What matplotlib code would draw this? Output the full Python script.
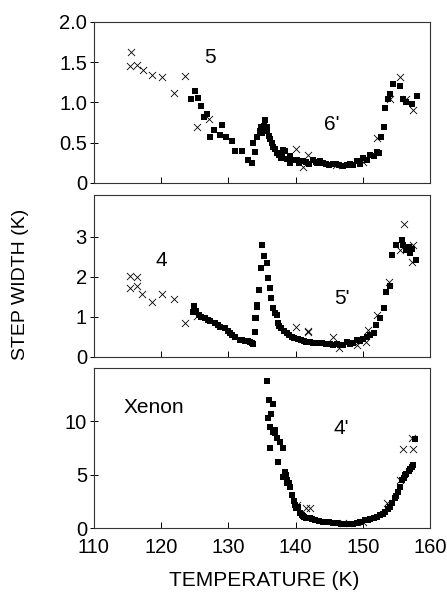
import numpy as np
import matplotlib
matplotlib.use('Agg')
import matplotlib.pyplot as plt

plt.rcParams['font.family'] = ['Liberation Sans', 'DejaVu Sans']

# top panel (layers 5 / 6')
top_sq_T = [125.0, 124.5, 125.5, 125.9, 126.8, 126.4, 127.3, 127.8, 129.1, 128.7, 129.6, 130.5,
            131.0, 132.1, 133.0, 133.5, 133.9, 133.7, 134.2, 134.7, 135.3, 135.4, 135.7, 136.2,
            136.7, 137.3, 137.9, 138.4, 139.2, 140.2, 141.1, 142.6, 144.1, 145.6, 147.1, 148.1,
            149.1, 150.1, 151.1, 152.1, 152.7, 153.1, 153.3, 153.8, 154.0, 154.5, 155.5, 156.0,
            156.5, 157.3, 158.0, 138.2, 139.2, 140.7, 143.2, 146.5, 148.6,
            134.9, 135.0, 135.8, 136.0, 136.5, 137.0, 137.6, 138.0, 138.8, 139.6, 140.5, 141.5,
            142.0, 143.0, 143.7, 144.6, 145.0, 146.0, 147.6, 149.6, 150.6, 151.6, 152.4]
top_sq_w = [1.14, 1.04, 1.05, 0.95, 0.85, 0.82, 0.57, 0.66, 0.72, 0.60, 0.57, 0.52,
            0.40, 0.40, 0.29, 0.25, 0.38, 0.50, 0.57, 0.64, 0.71, 0.78, 0.64, 0.54,
            0.45, 0.37, 0.31, 0.40, 0.25, 0.29, 0.27, 0.29, 0.25, 0.23, 0.21, 0.23,
            0.27, 0.31, 0.35, 0.39, 0.57, 0.70, 0.93, 1.04, 1.10, 1.23, 1.20, 1.04,
            1.00, 0.98, 1.08, 0.41, 0.33, 0.27, 0.25, 0.22, 0.22,
            0.70, 0.62, 0.70, 0.58, 0.50, 0.42, 0.35, 0.33, 0.30, 0.28, 0.25, 0.26,
            0.24, 0.26, 0.27, 0.24, 0.22, 0.24, 0.22, 0.24, 0.28, 0.33, 0.37]
top_x_T = [115.5, 115.3, 116.4, 117.3, 118.7, 120.2, 121.9, 123.6, 125.3, 127.1,
           140.0, 141.1, 141.9, 146.0, 150.0, 152.1, 154.0, 155.5, 156.5, 157.4]
top_x_w = [1.62, 1.45, 1.47, 1.40, 1.34, 1.32, 1.12, 1.33, 0.70, 0.80,
           0.42, 0.20, 0.35, 0.22, 0.26, 0.56, 1.04, 1.31, 1.04, 0.91]

# middle panel (layers 4 / 5')
mid_sq_T = [124.8, 124.9, 125.7, 126.5, 127.3, 128.0, 128.8, 129.5, 130.2, 131.0, 131.7, 132.5,
            133.2, 133.7, 133.9, 134.1, 134.3, 134.5, 134.8, 135.0, 135.3, 135.7, 135.9, 136.2,
            136.3, 136.7, 137.2, 137.4, 137.9, 138.7, 139.4, 140.4, 141.6, 143.1, 144.6, 146.1,
            147.6, 149.1, 150.6, 151.6, 152.0, 152.6, 153.1, 153.5, 154.0, 154.4, 155.0, 155.8,
            156.5, 157.3, 157.9, 134.2, 134.0,
            136.9, 137.6, 138.3, 139.0, 139.8, 140.8, 141.2, 142.2, 142.6, 143.6, 144.0, 145.1,
            145.6, 146.6, 147.1, 148.1, 148.6, 149.6, 150.1, 151.1, 125.2, 126.0, 127.0, 128.4,
            129.9, 130.6, 132.0, 132.9, 133.5, 156.0, 157.0, 156.8]
mid_sq_w = [1.13, 1.28, 1.05, 0.97, 0.90, 0.84, 0.76, 0.72, 0.59, 0.51, 0.43, 0.40,
            0.38, 0.33, 0.63, 0.97, 1.26, 1.68, 2.22, 2.80, 2.51, 2.34, 1.97, 1.72,
            1.47, 1.22, 1.05, 0.84, 0.72, 0.59, 0.51, 0.44, 0.38, 0.34, 0.33, 0.32,
            0.38, 0.43, 0.51, 0.59, 0.80, 0.97, 1.22, 1.61, 1.78, 2.55, 2.80, 2.93,
            2.68, 2.69, 2.43, 1.30, 0.97,
            1.10, 0.78, 0.65, 0.55, 0.48, 0.42, 0.40, 0.37, 0.36, 0.35, 0.34, 0.33,
            0.31, 0.31, 0.30, 0.32, 0.34, 0.40, 0.45, 0.55, 1.15, 1.00, 0.92, 0.80,
            0.65, 0.55, 0.42, 0.39, 0.36, 2.80, 2.60, 2.75]
mid_x_T = [115.3, 116.4, 115.4, 116.4, 117.2, 118.7, 120.2, 121.9, 123.6, 125.3,
           140.1, 141.8, 141.8, 145.5, 146.4, 149.1, 150.5, 150.8, 152.1, 153.9,
           156.1, 157.4, 157.3, 155.5]
mid_x_w = [2.01, 1.99, 1.73, 1.78, 1.57, 1.37, 1.58, 1.46, 0.86, 1.03,
           0.74, 0.65, 0.62, 0.49, 0.22, 0.30, 0.38, 0.68, 1.05, 1.86,
           3.32, 2.80, 2.38, 2.68]

# bottom panel (layer 4')
bot_sq_T = [135.8, 136.7, 136.4, 135.9, 136.2, 136.9, 137.3, 137.7, 138.2, 136.2, 137.4, 138.6,
            138.8, 139.1, 139.4, 139.9, 140.4, 140.9, 141.6, 142.9, 144.6, 146.1, 147.6, 149.1,
            150.3, 151.6, 152.6, 153.3, 154.0, 154.8, 155.3, 155.8, 156.3, 156.8, 157.3, 157.5,
            157.8, 138.2, 138.7, 140.7, 142.1, 144.1,
            140.1, 141.1, 141.3, 142.4, 143.5, 145.0, 145.5, 146.7, 147.1, 148.1, 148.6, 149.6,
            150.8, 151.1, 152.1, 153.0, 153.7, 154.4, 155.0, 155.5, 156.1, 156.5, 157.0,
            136.0, 137.0, 138.5, 139.0, 139.7, 136.6]
bot_sq_w = [13.8, 11.65, 10.7, 10.25, 9.47, 9.16, 8.38, 8.07, 7.45, 7.45, 6.2, 4.95,
            4.49, 3.86, 3.08, 2.15, 1.99, 1.21, 0.9, 0.75, 0.59, 0.5, 0.37, 0.5,
            0.75, 0.9, 1.21, 1.52, 1.99, 2.77, 3.39, 4.49, 4.95, 5.36, 5.73, 5.89,
            8.29, 4.8, 4.18, 1.37, 0.9, 0.59,
            1.9, 1.1, 1.0, 0.85, 0.7, 0.55, 0.52, 0.42, 0.40, 0.38, 0.42, 0.55,
            0.8, 0.85, 1.05, 1.35, 1.75, 2.35, 3.0, 3.8, 4.7, 5.1, 5.5,
            12.0, 8.9, 5.2, 4.2, 2.5, 9.0]
bot_x_T = [140.2, 141.6, 142.1, 147.0, 150.0, 153.6, 155.5, 156.0, 157.4, 157.3]
bot_x_w = [2.15, 1.84, 1.84, 0.45, 0.60, 2.31, 4.49, 7.35, 7.35, 8.47]

panels = [
    (top_sq_T, top_sq_w, top_x_T, top_x_w, 2.0, [0, 0.5, 1.0, 1.5, 2.0], ['0', '0.5', '1.0', '1.5', '2.0'],
     [(127.3, 1.56, '5'), (145.4, 0.72, "6'")]),
    (mid_sq_T, mid_sq_w, mid_x_T, mid_x_w, 4.05, [0, 1, 2, 3], ['0', '1', '2', '3'],
     [(120.1, 2.4, '4'), (146.9, 1.47, "5'")]),
    (bot_sq_T, bot_sq_w, bot_x_T, bot_x_w, 14.95, [0, 5, 10], ['0', '5', '10'],
     [(118.9, 11.3, 'Xenon'), (146.8, 9.3, "4'")]),
]

fig = plt.figure(figsize=(4.47, 5.92), dpi=100)
boxes = [[0.210, 0.691, 0.752, 0.272],
         [0.210, 0.397, 0.752, 0.274],
         [0.210, 0.108, 0.752, 0.270]]

for i, (sT, sw, xT, xw, ytop, yt, ytl, notes) in enumerate(panels):
    ax = fig.add_axes(boxes[i])
    ax.scatter(sT, sw, marker='s', s=22, color='black', linewidths=0, zorder=3)
    ax.scatter(xT, xw, marker='x', s=26, color='black', linewidths=0.6, zorder=4)
    ax.set_xlim(110, 160)
    ax.set_ylim(0, ytop)
    ax.set_yticks(yt)
    ax.set_yticklabels(ytl)
    ax.set_xticks([110, 120, 130, 140, 150, 160])
    ax.tick_params(axis='y', direction='inout', length=6, width=0.7, labelsize=14.5, pad=2)
    ax.tick_params(axis='x', direction='in', length=4, width=0.7, labelsize=14.5, pad=7)
    if i < 2:
        ax.tick_params(axis='x', labelbottom=False)
    for sp in ax.spines.values():
        sp.set_linewidth(0.8)
        sp.set_color('#333333')
    for tx, ty, s in notes:
        ax.text(tx, ty, s, fontsize=15, ha='center', va='center')

fig.text(0.045, 0.519, 'STEP WIDTH (K)', rotation=90, fontsize=14, ha='center', va='center')
fig.text(0.59, 0.02, 'TEMPERATURE (K)', fontsize=15, ha='center', va='center')

fig.savefig('out.png', dpi=100, facecolor='white')
